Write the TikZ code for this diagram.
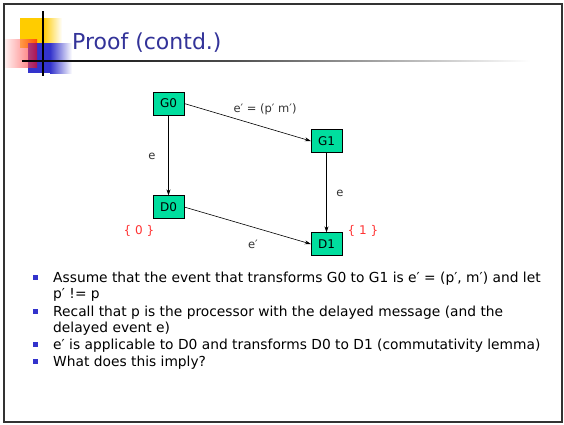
\documentclass[tikz,border=0pt]{standalone}
\usepackage{fontspec}
\setmainfont{DejaVu Sans}
\usetikzlibrary{arrows.meta}
\definecolor{titleblue}{RGB}{51,51,153}
\definecolor{boxgreen}{RGB}{0,222,158}
\definecolor{bulletblue}{RGB}{51,51,204}
\definecolor{lblred}{RGB}{255,51,51}
\definecolor{logoyellow}{RGB}{255,204,0}
\definecolor{logoblue}{RGB}{51,51,204}
\tikzset{
  statebox/.style={draw=black, fill=boxgreen, minimum width=31pt, minimum height=23pt, inner sep=0pt, font=\fontsize{12}{14}\selectfont},
  conn/.style={-{Stealth[length=6pt,width=4pt]}, line width=0.6pt},
  edgelbl/.style={font=\fontsize{11.5}{14}\selectfont, text=black!80},
  setlbl/.style={font=\fontsize{12}{14}\selectfont, text=lblred},
  bullettext/.style={anchor=base west, inner sep=0pt, font=\fontsize{13.8}{16}\selectfont},
  bulletsq/.style={fill=bulletblue, minimum size=5.5pt, inner sep=0pt}
}
\begin{document}
\begin{tikzpicture}[x=1pt,y=-1pt]
\useasboundingbox (0,0) rectangle (564,424);
\fill[white] (0,0) rectangle (564,424);
% frame
\draw[line width=2pt, black!80] (3.5,3.5) rectangle (561.5,421.5);
% logo
\fill[logoyellow] (20,18) rectangle (43,48);
\shade[left color=logoyellow, right color=white] (43,18) rectangle (62,48);
\fill[logoblue] (28,43) rectangle (50,73);
\shade[left color=logoblue, right color=white] (50,43) rectangle (72,73);
\shade[left color=red!10, right color=red, opacity=0.6] (5,39) rectangle (37,67);
\draw[line width=1.3pt, black] (43,11) -- (43,76);
\shade[left color=black, right color=black!70] (22,60.2) rectangle (230,61.8);
\shade[left color=black!70, right color=white] (230,60.2) rectangle (530,61.8);
% title
\node[anchor=west, text=titleblue, inner sep=0pt, font=\fontsize{22}{26}\selectfont] (title) at (72,43) {Proof (contd.)};
% diagram
\node[statebox] (G0) at (168.5,103.5) {G0};
\node[statebox] (G1) at (326.5,141) {G1};
\node[statebox] (D0) at (168.5,207) {D0};
\node[statebox] (D1) at (326.5,244) {D1};
\draw[conn] (G0) -- (D0);
\draw[conn] (G0.east) -- (G1.west);
\draw[conn] (G1) -- (D1);
\draw[conn] (D0.east) -- (D1.west);
\node[edgelbl] (l1) at (265,109) {e′ = (p′ m′)};
\node[edgelbl] (l2) at (152,156) {e};
\node[edgelbl] (l3) at (340,193) {e};
\node[edgelbl] (l4) at (253,244) {e′};
\node[setlbl] (s0) at (139,231) {\{ 0 \}};
\node[setlbl] (s1) at (363,231) {\{ 1 \}};
% bullets
\node[bulletsq] (b1) at (35.5,277.5) {};
\node[bulletsq] (b2) at (35.5,311.5) {};
\node[bulletsq] (b3) at (35.5,344.5) {};
\node[bulletsq] (b4) at (35.5,361.5) {};
\node[bullettext] (t1a) at (53,282) {Assume that the event that transforms G0 to G1 is e′ = (p′, m′) and let};
\node[bullettext] (t1b) at (53,298) {p′ != p};
\node[bullettext] (t2a) at (53,316) {Recall that p is the processor with the delayed message (and the};
\node[bullettext] (t2b) at (53,332) {delayed event e)};
\node[bullettext] (t3) at (53,349) {e′ is applicable to D0 and transforms D0 to D1 (commutativity lemma)};
\node[bullettext] (t4) at (53,366) {What does this imply?};
\end{tikzpicture}
\end{document}
